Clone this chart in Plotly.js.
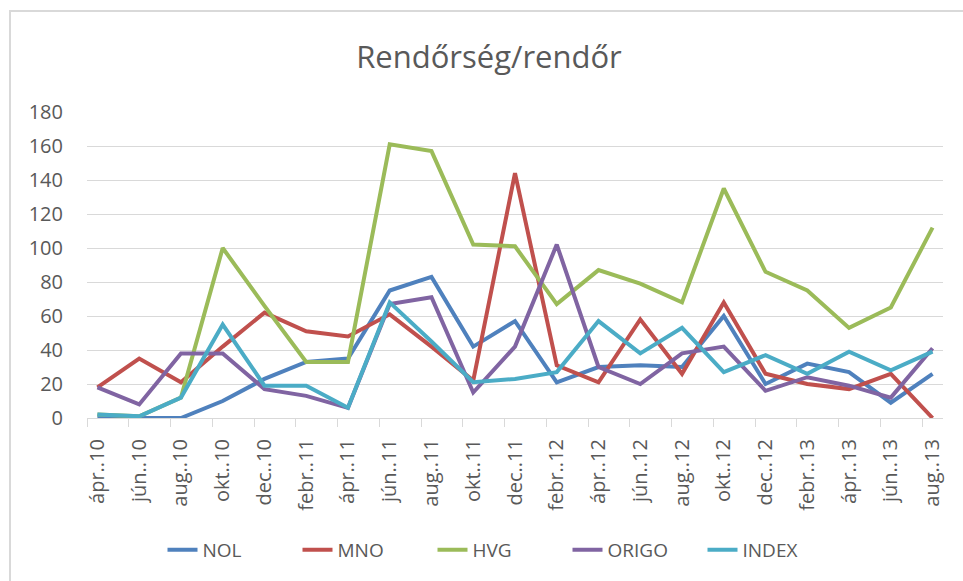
<!DOCTYPE html>
<html>
<head>
<meta charset="utf-8">
<script src="https://cdn.plot.ly/plotly-3.0.1.min.js"></script>
<style>
  html, body { margin: 0; padding: 0; background: #fff; }
  #chart { width: 963px; height: 581px; }
</style>
</head>
<body>
<div id="chart"></div>
<script>
// categories (two-month steps)
const months = ['ápr..10', 'jún..10', 'aug..10', 'okt..10', 'dec..10', 'febr..11', 'ápr..11',
    'jún..11', 'aug..11', 'okt..11', 'dec..11', 'febr..12', 'ápr..12', 'jún..12', 'aug..12',
    'okt..12', 'dec..12', 'febr..13', 'ápr..13', 'jún..13', 'aug..13'];

// series values
const nol   = [1, 0, 0, 10, 23, 33, 35, 75, 83, 42, 57, 21, 30, 31, 30, 60, 20, 32, 27, 9, 26];
const mno   = [18, 35, 21, 42, 62, 51, 48, 61, 42, 22, 144, 31, 21, 58, 26, 68, 26, 20, 17, 26, 0];
const hvg   = [2, 1, 12, 100, 66, 33, 33, 161, 157, 102, 101, 67, 87, 79, 68, 135, 86, 75, 53, 65, 112];
const origo = [18, 8, 38, 38, 17, 13, 6, 67, 71, 15, 42, 102, 30, 20, 38, 42, 16, 24, 19, 12, 41];
const index = [2, 1, 12, 55, 19, 19, 6, 68, 45, 21, 23, 27, 57, 38, 53, 27, 37, 26, 39, 28, 39];

const yTicks = [0, 20, 40, 60, 80, 100, 120, 140, 160, 180];

const xIdx = months.map((m, i) => i);
const FONT = '"Open Sans", sans-serif';
const GREY = '#595959';

function line(name, values, color) {
    return {
        x: xIdx,
        y: values,
        name: name,
        type: 'scatter',
        mode: 'lines',
        line: { color: color, width: 4 },
        hoverinfo: 'skip'
    };
}

const traces = [
    line('NOL', nol, '#4F81BD'),
    line('MNO', mno, '#C0504D'),
    line('HVG', hvg, '#9BBB59'),
    line('ORIGO', origo, '#8064A2'),
    line('INDEX', index, '#4BACC6')
];

const layout = {
    width: 963,
    height: 581,
    paper_bgcolor: '#fff',
    plot_bgcolor: '#fff',
    margin: { l: 87, r: 20, t: 112, b: 163 },
    font: { family: FONT, color: GREY },
    title: {
        text: 'Rendőrség/rendőr',
        font: { family: FONT, size: 31, color: GREY },
        x: 489 / 963, xref: 'container', xanchor: 'center',
        y: 1 - 57 / 581, yref: 'container', yanchor: 'middle'
    },
    xaxis: {
        type: 'linear',
        range: [-0.25, 20.25],
        tickmode: 'array',
        tickvals: xIdx,
        ticktext: months,
        tickangle: -90,
        ticks: '',
        ticklabelstandoff: 12,
        tickfont: { family: FONT, size: 20, color: GREY },
        showgrid: false,
        zeroline: false,
        showline: true,
        linecolor: '#d9d9d9',
        linewidth: 1,
        minor: { ticks: 'outside', ticklen: 8, tickcolor: '#d9d9d9', tick0: -0.25, dtick: 1, showgrid: false }
    },
    yaxis: {
        range: [0, 180],
        tickmode: 'array',
        tickvals: yTicks,
        ticks: '',
        ticklabelstandoff: 23,
        tickfont: { family: FONT, size: 20, color: GREY },
        gridcolor: '#d9d9d9',
        gridwidth: 1,
        zeroline: false,
        showline: false
    },
    showlegend: true,
    legend: {
        orientation: 'h',
        xref: 'container', x: 500 / 963, xanchor: 'center',
        yref: 'container', y: 1 - 550 / 581, yanchor: 'middle',
        entrywidth: 90,
        entrywidthmode: 'pixels',
        font: { family: FONT, size: 19, color: GREY },
        bgcolor: 'rgba(0,0,0,0)'
    },
    shapes: [{
        type: 'rect', xref: 'paper', yref: 'paper',
        x0: (10 - 87) / 856, x1: 1.2,
        y0: -0.7, y1: (418 - 11) / 306,
        line: { color: '#d9d9d9', width: 2 },
        fillcolor: 'rgba(0,0,0,0)',
        layer: 'below'
    }]
};

Plotly.newPlot('chart', traces, layout, { staticPlot: true, displayModeBar: false });
</script>
</body>
</html>
